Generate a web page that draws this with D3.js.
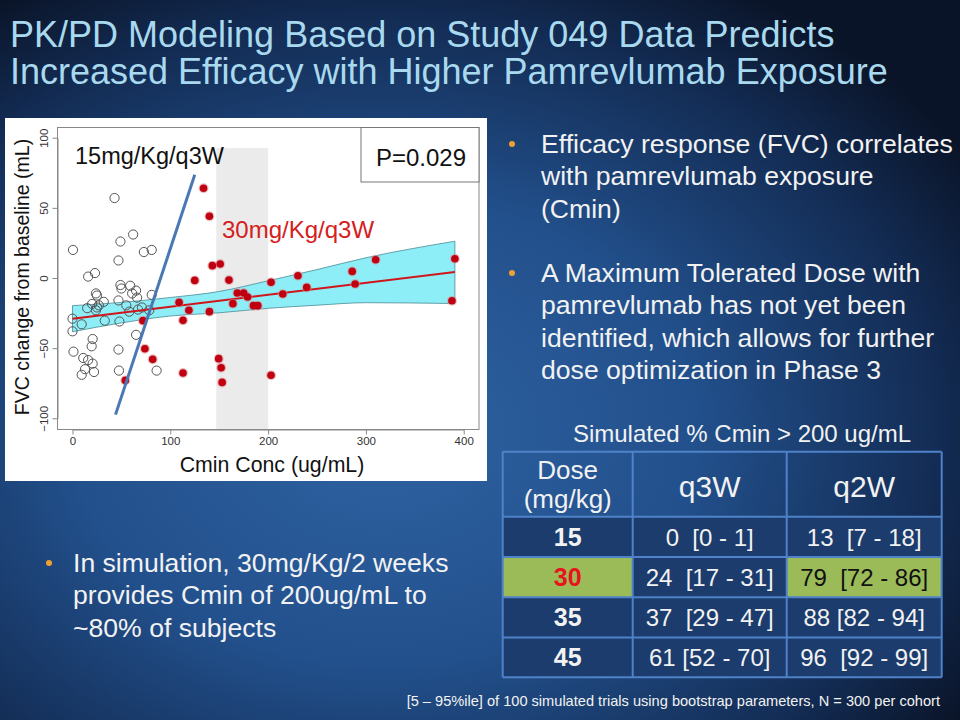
<!DOCTYPE html>
<html><head><meta charset="utf-8">
<script src="https://cdn.jsdelivr.net/npm/d3@7"></script>
<style>
html,body{margin:0;padding:0;background:#0b1730;}
svg{display:block;font-family:"Liberation Sans",Arial,sans-serif;}
text{white-space:pre;}
</style></head>
<body>
<svg id="c" width="960" height="720"></svg>
<script>
// ---------- data ----------
const titleLines = ["PK/PD Modeling Based on Study 049 Data Predicts",
                    "Increased Efficacy with Higher Pamrevlumab Exposure"];
const openX = [0.5,43,49,62,73,81,47,16,23,49,50,59,65,61,24,25,81,32,47,20,27,15,66,55,58,67,71,24,78.5,0,9.4,33,48,0,20.6,19.6,65,1,11,16,20.6,12.8,22,9.4,47,47.5,86,25];
const openY = [20,57,26,31,18.5,20,12.5,1,3.5,-5,-7.5,-5.5,-9,-11,-11,-12.5,-12,-17,-16,-18.5,-19.5,-21.5,-14,-19.5,-24,-22.5,-21,-23,-23,-29,-33,-30.4,-31,-38,-43.5,-48.7,-40.5,-52.5,-57,-58.5,-61,-65,-67,-69,-51,-66,-66,-21];
const redX = [134,140,143,151,125,160,109,119,140,164,168.5,175,179,185,189.5,203,215,230.5,239.5,286,289,310,391,388,203,113,149.5,152,153,113,72,74,82,54];
const redY = [64,44,8.8,10,-1.7,-1.5,-17.4,-23,-24,-18.3,-10.7,-10.7,-13.5,-19.7,-19.7,-3,-11.4,1.6,-6.7,4.7,-4.3,13,13.7,-16.2,-69.3,-30.2,-57.5,-64,-74.4,-67.7,-30.4,-50.4,-58,-73];
const fitX = [0,391];
const fitY = [-29,4.3];
const bandX  = [0,50,100,150,200,250,300,391];
const bandLo = [-38.3,-32.0,-27.1,-24.8,-21.6,-19.4,-17.6,-18.2];
const bandHi = [-19.7,-17.4,-13.9,-9.6,-2.0,6.0,14.4,26.2];
const line15X = [44,125];
const line15Y = [-97.4,73.6];
const shadeX = [147,200];
const xTicks = [0,100,200,300,400];
const yTicks = [-100,-50,0,50,100];
const bullets1 = [["Efficacy response (FVC) correlates","with pamrevlumab exposure","(Cmin)"],
                  ["A Maximum Tolerated Dose with","pamrevlumab has not yet been","identified, which allows for further","dose optimization in Phase 3"]];
const bullet2 = ["In simulation, 30mg/Kg/2 weeks","provides Cmin of 200ug/mL to","~80% of subjects"];
const tableTitle = "Simulated % Cmin > 200 ug/mL";
const doses = ["15","30","35","45"];
const q3w = ["0  [0 - 1]","24  [17 - 31]","37  [29 - 47]","61 [52 - 70]"];
const q2w = ["13  [7 - 18]","79  [72 - 86]","88 [82 - 94]","96  [92 - 99]"];
const highlightRow = 1;
const footnote = "[5 \u2013 95%ile] of 100 simulated trials using bootstrap parameters, N = 300 per cohort";

// ---------- drawing ----------
const svg = d3.select("#c");
const defs = svg.append("defs");
const rg = defs.append("radialGradient").attr("id","bg").attr("cx","0.40").attr("cy","0.60").attr("r","0.72");
rg.append("stop").attr("offset","0").attr("stop-color","#2f62a2");
rg.append("stop").attr("offset","0.45").attr("stop-color","#22508c");
rg.append("stop").attr("offset","0.8").attr("stop-color","#132c54");
rg.append("stop").attr("offset","1").attr("stop-color","#0a1428");
svg.append("rect").attr("width",960).attr("height",720).attr("fill","url(#bg)");

// title
svg.append("g").selectAll("text").data(titleLines).join("text")
  .attr("x",10).attr("y",(d,i)=>47+i*37).attr("fill","#a9d9ee")
  .attr("font-size",36).text(d=>d);

// chart panel
svg.append("rect").attr("x",5).attr("y",118).attr("width",482).attr("height",363).attr("fill","#ffffff");

const x = d3.scaleLinear().domain([0,400]).range([72.5,463.7]);
const y = d3.scaleLinear().domain([-100,100]).range([418.3,137.7]);
const box = {x0:x.invert(57.5), x1:x.invert(479), y0:y.invert(429.5), y1:y.invert(127.5)};
const g = svg.append("g");

// grey shaded region
g.append("rect").attr("x",x(shadeX[0])).attr("width",x(shadeX[1])-x(shadeX[0]))
  .attr("y",y(92.6)).attr("height",y(box.y0)-y(92.6)).attr("fill","#ebebeb");

// confidence band
const band = bandX.map((v,i)=>({x:v,lo:bandLo[i],hi:bandHi[i]}));
g.append("path").datum(band)
  .attr("d",d3.area().x(d=>x(d.x)).y0(d=>y(d.lo)).y1(d=>y(d.hi)).curve(d3.curveMonotoneX))
  .attr("fill","#8deef7").attr("stroke","#4a8a96").attr("stroke-width",0.8);

// open circles
g.append("g").selectAll("circle").data(openX.map((v,i)=>[v,openY[i]])).join("circle")
  .attr("cx",d=>x(d[0])).attr("cy",d=>y(d[1])).attr("r",4.6)
  .attr("fill","none").attr("stroke","#555").attr("stroke-width",1);

// fit line
g.append("path").datum(fitX.map((v,i)=>[v,fitY[i]]))
  .attr("d",d3.line().x(d=>x(d[0])).y(d=>y(d[1])))
  .attr("stroke","#d0161b").attr("stroke-width",2).attr("fill","none");

// red points
g.append("g").selectAll("circle").data(redX.map((v,i)=>[v,redY[i]])).join("circle")
  .attr("cx",d=>x(d[0])).attr("cy",d=>y(d[1])).attr("r",5)
  .attr("fill","#d89090").attr("opacity",0.55);
g.append("g").selectAll("circle").data(redX.map((v,i)=>[v,redY[i]])).join("circle")
  .attr("cx",d=>x(d[0])).attr("cy",d=>y(d[1])).attr("r",3.8)
  .attr("fill","#c00010");

// 15mg line
g.append("path").datum(line15X.map((v,i)=>[v,line15Y[i]]))
  .attr("d",d3.line().x(d=>x(d[0])).y(d=>y(d[1])))
  .attr("stroke","#4a78b4").attr("stroke-width",3).attr("fill","none");

// frame
g.append("rect").attr("x",x(box.x0)).attr("y",y(box.y1))
  .attr("width",x(box.x1)-x(box.x0)).attr("height",y(box.y0)-y(box.y1))
  .attr("fill","none").attr("stroke","#888").attr("stroke-width",1);

// P box
g.append("rect").attr("x",361).attr("y",y(box.y1)).attr("width",x(box.x1)-361).attr("height",182-y(box.y1))
  .attr("fill","#fff").attr("stroke","#777").attr("stroke-width",1);
g.append("text").attr("x",421).attr("y",166).attr("text-anchor","middle").attr("font-size",24).attr("fill","#111").text("P=0.029");

// labels
g.append("text").attr("x",75).attr("y",164).attr("font-size",23.5).attr("fill","#111").text("15mg/Kg/q3W");
g.append("text").attr("x",222).attr("y",238).attr("font-size",24).attr("fill","#d42020").text("30mg/Kg/q3W");

// axes
const xa = g.append("g").attr("transform",`translate(0,429.5)`)
  .call(d3.axisBottom(x).tickValues(xTicks).tickSize(5).tickSizeOuter(0).tickPadding(2));
xa.select(".domain").attr("stroke","#888");
xa.selectAll(".tick line").attr("stroke","#888");
xa.selectAll("text").attr("font-size",11.5).attr("fill","#333").attr("font-family","Liberation Sans, Arial");
const ya = g.append("g").attr("transform",`translate(57.5,0)`)
  .call(d3.axisLeft(y).tickValues(yTicks).tickSize(5).tickSizeOuter(0));
ya.select(".domain").attr("stroke","#888");
ya.selectAll(".tick line").attr("stroke","#888");
ya.selectAll("text").attr("font-size",11.5).attr("fill","#333").attr("font-family","Liberation Sans, Arial")
  .attr("x",null).attr("dy",null).attr("text-anchor","middle")
  .attr("transform","translate(-10,0) rotate(-90)").attr("y",0);

// axis titles
g.append("text").attr("x",272).attr("y",472).attr("text-anchor","middle").attr("font-size",21.3).attr("fill","#111").text("Cmin Conc (ug/mL)");
g.append("text").attr("transform","translate(29,277) rotate(-90)").attr("text-anchor","middle").attr("font-size",19.5).attr("fill","#111").text("FVC change from baseline (mL)");

// right bullets
const bStarts = [153,282];
bullets1.forEach((lines,bi)=>{
  svg.append("circle").attr("cx",512).attr("cy",bStarts[bi]-9).attr("r",3).attr("fill","#f0a030");
  svg.append("g").selectAll("text").data(lines).join("text")
    .attr("x",541).attr("y",(d,i)=>bStarts[bi]+i*32.3).attr("font-size",26.6).attr("fill","#f2f2f2").text(d=>d);
});
svg.append("circle").attr("cx",49).attr("cy",563).attr("r",3).attr("fill","#f0a030");
svg.append("g").selectAll("text").data(bullet2).join("text")
  .attr("x",73).attr("y",(d,i)=>572+i*32.3).attr("font-size",26.6).attr("fill","#f2f2f2").text(d=>d);

// table
svg.append("text").attr("x",742).attr("y",442).attr("text-anchor","middle").attr("font-size",24).attr("fill","#f2f2f2").text(tableTitle);
const cols = [502.7,632.7,786.7,941.7];
const rows = [451.7,516.7,556.9,597.3,637.5,677.3];
const tg = svg.append("g");
doses.forEach((d,i)=>{
  const r0 = rows[i+1], r1 = rows[i+2];
  [d,q3w[i],q2w[i]].forEach((txt,c)=>{
    const hl = (i===highlightRow && c!==1);
    tg.append("rect").attr("x",cols[c]).attr("y",r0).attr("width",cols[c+1]-cols[c]).attr("height",r1-r0)
      .attr("fill", hl ? "#9bbb59" : "#1b3c6c");
    tg.append("text").attr("x",(cols[c]+cols[c+1])/2).attr("y",(r0+r1)/2+9).attr("text-anchor","middle")
      .attr("font-size", c===0 ? 25 : 24).attr("font-weight", c===0 ? "bold" : "normal")
      .attr("fill", (i===highlightRow && c===0) ? "#e8141c" : (hl ? "#111" : "#f2f2f2"))
      .text(txt);
  });
});
// header
tg.append("text").attr("x",(cols[0]+cols[1])/2).attr("y",479).attr("text-anchor","middle").attr("font-size",26).attr("fill","#f2f2f2").text("Dose");
tg.append("text").attr("x",(cols[0]+cols[1])/2).attr("y",508).attr("text-anchor","middle").attr("font-size",26).attr("fill","#f2f2f2").text("(mg/kg)");
tg.append("text").attr("x",(cols[1]+cols[2])/2).attr("y",497).attr("text-anchor","middle").attr("font-size",30).attr("fill","#f2f2f2").text("q3W");
tg.append("text").attr("x",(cols[2]+cols[3])/2).attr("y",497).attr("text-anchor","middle").attr("font-size",30).attr("fill","#f2f2f2").text("q2W");
// grid lines
cols.forEach(cx=>tg.append("line").attr("x1",cx).attr("x2",cx).attr("y1",rows[0]).attr("y2",rows[rows.length-1]).attr("stroke","#4f82c8").attr("stroke-width",2));
rows.forEach(ry=>tg.append("line").attr("x1",cols[0]).attr("x2",cols[3]).attr("y1",ry).attr("y2",ry).attr("stroke","#4f82c8").attr("stroke-width",2));

svg.append("text").attr("x",940).attr("y",706).attr("text-anchor","end").attr("font-size",14.6).attr("fill","#f2f2f2").text(footnote);
</script>
</body></html>
